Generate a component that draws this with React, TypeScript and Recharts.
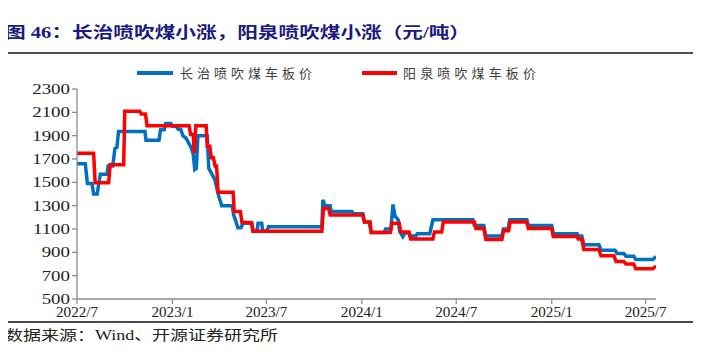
import React from "react"
import { LineChart, Line, XAxis, YAxis, Legend } from "recharts"

// 长治喷吹煤车板价 (元/吨), turning points
const changzhiPts: [string, number][] = [
   ["2022-07-01", 1660], ["2022-07-17", 1660], ["2022-07-21", 1490], ["2022-07-30", 1490],
   ["2022-08-02", 1400], ["2022-08-09", 1400], ["2022-08-12", 1490], ["2022-08-15", 1570],
   ["2022-08-28", 1570], ["2022-08-30", 1640], ["2022-09-08", 1640], ["2022-09-12", 1790],
   ["2022-09-16", 1800], ["2022-09-19", 1935], ["2022-11-09", 1935], ["2022-11-11", 1860],
   ["2022-12-06", 1860], ["2022-12-09", 1950], ["2022-12-16", 1950], ["2022-12-19", 2005],
   ["2022-12-29", 2005], ["2023-01-01", 1980], ["2023-01-08", 1980], ["2023-01-12", 1955],
   ["2023-01-17", 1955], ["2023-01-21", 1900], ["2023-01-27", 1880], ["2023-02-02", 1830],
   ["2023-02-06", 1800], ["2023-02-10", 1740], ["2023-02-13", 1610], ["2023-02-16", 1620],
   ["2023-02-19", 1900], ["2023-03-09", 1900], ["2023-03-12", 1620], ["2023-03-18", 1570],
   ["2023-03-24", 1520], ["2023-03-28", 1440], ["2023-04-01", 1370], ["2023-04-06", 1300],
   ["2023-04-26", 1300], ["2023-04-29", 1220], ["2023-05-03", 1170], ["2023-05-07", 1110],
   ["2023-05-13", 1110], ["2023-05-17", 1150], ["2023-06-03", 1150], ["2023-06-06", 1080],
   ["2023-06-13", 1080], ["2023-06-15", 1150], ["2023-06-22", 1150], ["2023-06-24", 1080],
   ["2023-07-02", 1080], ["2023-07-05", 1120], ["2023-10-16", 1120], ["2023-10-18", 1350],
   ["2023-10-22", 1300], ["2023-11-01", 1300], ["2023-11-03", 1250], ["2023-12-13", 1250],
   ["2023-12-15", 1230], ["2024-01-03", 1230], ["2024-01-06", 1160], ["2024-01-15", 1160],
   ["2024-01-19", 1070], ["2024-02-13", 1070], ["2024-02-16", 1100], ["2024-02-26", 1100],
   ["2024-03-01", 1310], ["2024-03-05", 1210], ["2024-03-11", 1180], ["2024-03-14", 1080],
   ["2024-03-20", 1035], ["2024-03-24", 1065], ["2024-04-01", 1065], ["2024-04-03", 1040],
   ["2024-04-14", 1040], ["2024-04-17", 1060], ["2024-05-11", 1060], ["2024-05-17", 1180],
   ["2024-08-02", 1180], ["2024-08-05", 1130], ["2024-08-23", 1130], ["2024-08-27", 1040],
   ["2024-09-27", 1040], ["2024-09-30", 1100], ["2024-10-09", 1100], ["2024-10-12", 1180],
   ["2024-11-14", 1180], ["2024-11-17", 1130], ["2025-01-01", 1130], ["2025-01-04", 1060],
   ["2025-02-19", 1060], ["2025-02-21", 1040], ["2025-02-28", 1040], ["2025-03-04", 965],
   ["2025-04-02", 965], ["2025-04-06", 918], ["2025-05-03", 918], ["2025-05-07", 890],
   ["2025-05-20", 890], ["2025-05-24", 867], ["2025-06-08", 867], ["2025-06-12", 838],
   ["2025-07-15", 838], ["2025-07-21", 865],
]

// 阳泉喷吹煤车板价 (元/吨)
const yangquanPts: [string, number][] = [
   ["2022-07-01", 1750], ["2022-08-02", 1750], ["2022-08-05", 1497], ["2022-08-31", 1497],
   ["2022-09-03", 1650], ["2022-09-29", 1650], ["2022-10-01", 2110], ["2022-10-30", 2110],
   ["2022-11-02", 2085], ["2022-11-10", 2085], ["2022-11-13", 1985], ["2023-02-02", 1985],
   ["2023-02-05", 1910], ["2023-02-10", 1910], ["2023-02-12", 1750], ["2023-02-15", 1985],
   ["2023-03-07", 1985], ["2023-03-09", 1810], ["2023-03-14", 1810], ["2023-03-17", 1710],
   ["2023-03-21", 1710], ["2023-03-24", 1640], ["2023-03-27", 1640], ["2023-03-30", 1415],
   ["2023-04-28", 1415], ["2023-04-30", 1250], ["2023-05-12", 1250], ["2023-05-15", 1155],
   ["2023-06-02", 1155], ["2023-06-05", 1080], ["2023-10-16", 1080], ["2023-10-19", 1275],
   ["2023-10-29", 1275], ["2023-11-01", 1220], ["2024-01-03", 1220], ["2024-01-06", 1160],
   ["2024-01-17", 1160], ["2024-01-19", 1070], ["2024-02-25", 1070], ["2024-02-28", 1150],
   ["2024-03-13", 1150], ["2024-03-16", 1075], ["2024-04-01", 1075], ["2024-04-04", 1015],
   ["2024-05-17", 1015], ["2024-05-20", 1075], ["2024-06-03", 1075], ["2024-06-06", 1160],
   ["2024-08-05", 1160], ["2024-08-08", 1105], ["2024-08-23", 1105], ["2024-08-27", 1010],
   ["2024-09-27", 1010], ["2024-09-30", 1085], ["2024-10-10", 1085], ["2024-10-13", 1160],
   ["2024-11-14", 1160], ["2024-11-17", 1105], ["2025-01-01", 1105], ["2025-01-04", 1035],
   ["2025-02-19", 1035], ["2025-02-21", 1015], ["2025-02-28", 1015], ["2025-03-04", 924],
   ["2025-04-02", 924], ["2025-04-06", 870], ["2025-05-01", 870], ["2025-05-05", 822],
   ["2025-05-20", 822], ["2025-05-24", 800], ["2025-06-08", 800], ["2025-06-12", 760],
   ["2025-07-15", 760], ["2025-07-21", 782],
]

const xTickLabels = ["2022/7", "2023/1", "2023/7", "2024/1", "2024/7", "2025/1", "2025/7"]
const yTicks = [500, 700, 900, 1100, 1300, 1500, 1700, 1900, 2100, 2300]
const seriesNames = ["长治喷吹煤车板价", "阳泉喷吹煤车板价"]
const seriesColors = ["#0070C0", "#FF0000"]

const toTs = (s: string) => {
   const [y, m, d] = s.split("-").map(Number)
   return Date.UTC(y, m - 1, d)
}
const labelTs = (s: string) => {
   const [y, m] = s.split("/").map(Number)
   return Date.UTC(y, m - 1, 1)
}
const fmtTick = (t: number) => {
   const d = new Date(t)
   return `${d.getUTCFullYear()}/${d.getUTCMonth() + 1}`
}

const changzhi = changzhiPts.map(([d, v]) => ({ t: toTs(d), v }))
const yangquan = yangquanPts.map(([d, v]) => ({ t: toTs(d), v }))
const xTicks = xTickLabels.map(labelTs)
const xDomain = [toTs("2022-07-01"), toTs("2025-07-21")]

const numFont = "'Liberation Serif', 'Times New Roman', serif"
const cjkFont = "'Noto Sans CJK SC', sans-serif"
const mixFont = "'Liberation Serif', 'Noto Sans CJK SC', serif"

const YTick = (props: any) => {
   const { x, y, payload } = props
   return (
      <text transform={`translate(${x},${y + 5}) scale(1.35,1)`} textAnchor="end"
         fontFamily={numFont} fontSize={14} fill="#222">
         {payload.value}
      </text>
   )
}

const XTick = (props: any) => {
   const { x, y, payload } = props
   return (
      <text transform={`translate(${x},${y + 11}) scale(1.08,1)`} textAnchor="middle"
         fontFamily={numFont} fontSize={14} fill="#222">
         {fmtTick(payload.value)}
      </text>
   )
}

const LegendBox = () => (
   <svg width={701} height={20}>
      <line x1={137} x2={173} y1={10} y2={10} stroke={seriesColors[0]} strokeWidth={4} />
      <text x={180} y={15} fontFamily={cjkFont} fontSize={13} fill="#404040"
         textLength={132} lengthAdjust="spacing">{seriesNames[0]}</text>
      <line x1={362} x2={397} y1={10} y2={10} stroke={seriesColors[1]} strokeWidth={4} />
      <text x={403} y={15} fontFamily={cjkFont} fontSize={13} fill="#404040"
         textLength={133} lengthAdjust="spacing">{seriesNames[1]}</text>
   </svg>
)

export default function App() {
   return (
      <div style={{ position: "relative", width: 701, height: 358, margin: -8, background: "#fff" }}>
         <svg width={701} height={358} style={{ position: "absolute", left: 0, top: 0 }}>
            <text x={5} y={38} fontFamily={mixFont} fontWeight="bold" fontSize={16} fill="#1a1a80"
               textLength={465} lengthAdjust="spacingAndGlyphs">
               图 46：长治喷吹煤小涨，阳泉喷吹煤小涨（元/吨）
            </text>
            <line x1={3} x2={695} y1={53} y2={53} stroke="#111" strokeWidth={1.5} />
            <line x1={3} x2={695} y1={322} y2={322} stroke="#111" strokeWidth={1.5} />
            <text x={5} y={340} fontFamily={mixFont} fontSize={14} fill="#222"
               textLength={273} lengthAdjust="spacingAndGlyphs">
               数据来源：Wind、开源证券研究所
            </text>
         </svg>
         <div style={{ position: "absolute", left: 0, top: 0 }}>
            <LineChart width={701} height={358} margin={{ top: 89, right: 45, bottom: 29, left: 0 }}>
               <XAxis dataKey="t" type="number" domain={xDomain} ticks={xTicks} allowDataOverflow
                  interval={0} tick={<XTick />} tickSize={5} stroke="#8c8c8c" strokeWidth={1.3} height={30} />
               <YAxis type="number" domain={[500, 2300]} ticks={yTicks} tick={<YTick />} interval={0}
                  tickSize={5} stroke="#8c8c8c" strokeWidth={1.3} width={77} />
               <Legend verticalAlign="middle" content={<LegendBox />}
                  wrapperStyle={{ top: 63, left: 0, width: 701, height: 20 }} />
               <Line data={changzhi} dataKey="v" name={seriesNames[0]} type="linear"
                  stroke={seriesColors[0]} strokeWidth={3.5} dot={false} isAnimationActive={false} />
               <Line data={yangquan} dataKey="v" name={seriesNames[1]} type="linear"
                  stroke={seriesColors[1]} strokeWidth={3.5} dot={false} isAnimationActive={false} />
            </LineChart>
         </div>
      </div>
   )
}
